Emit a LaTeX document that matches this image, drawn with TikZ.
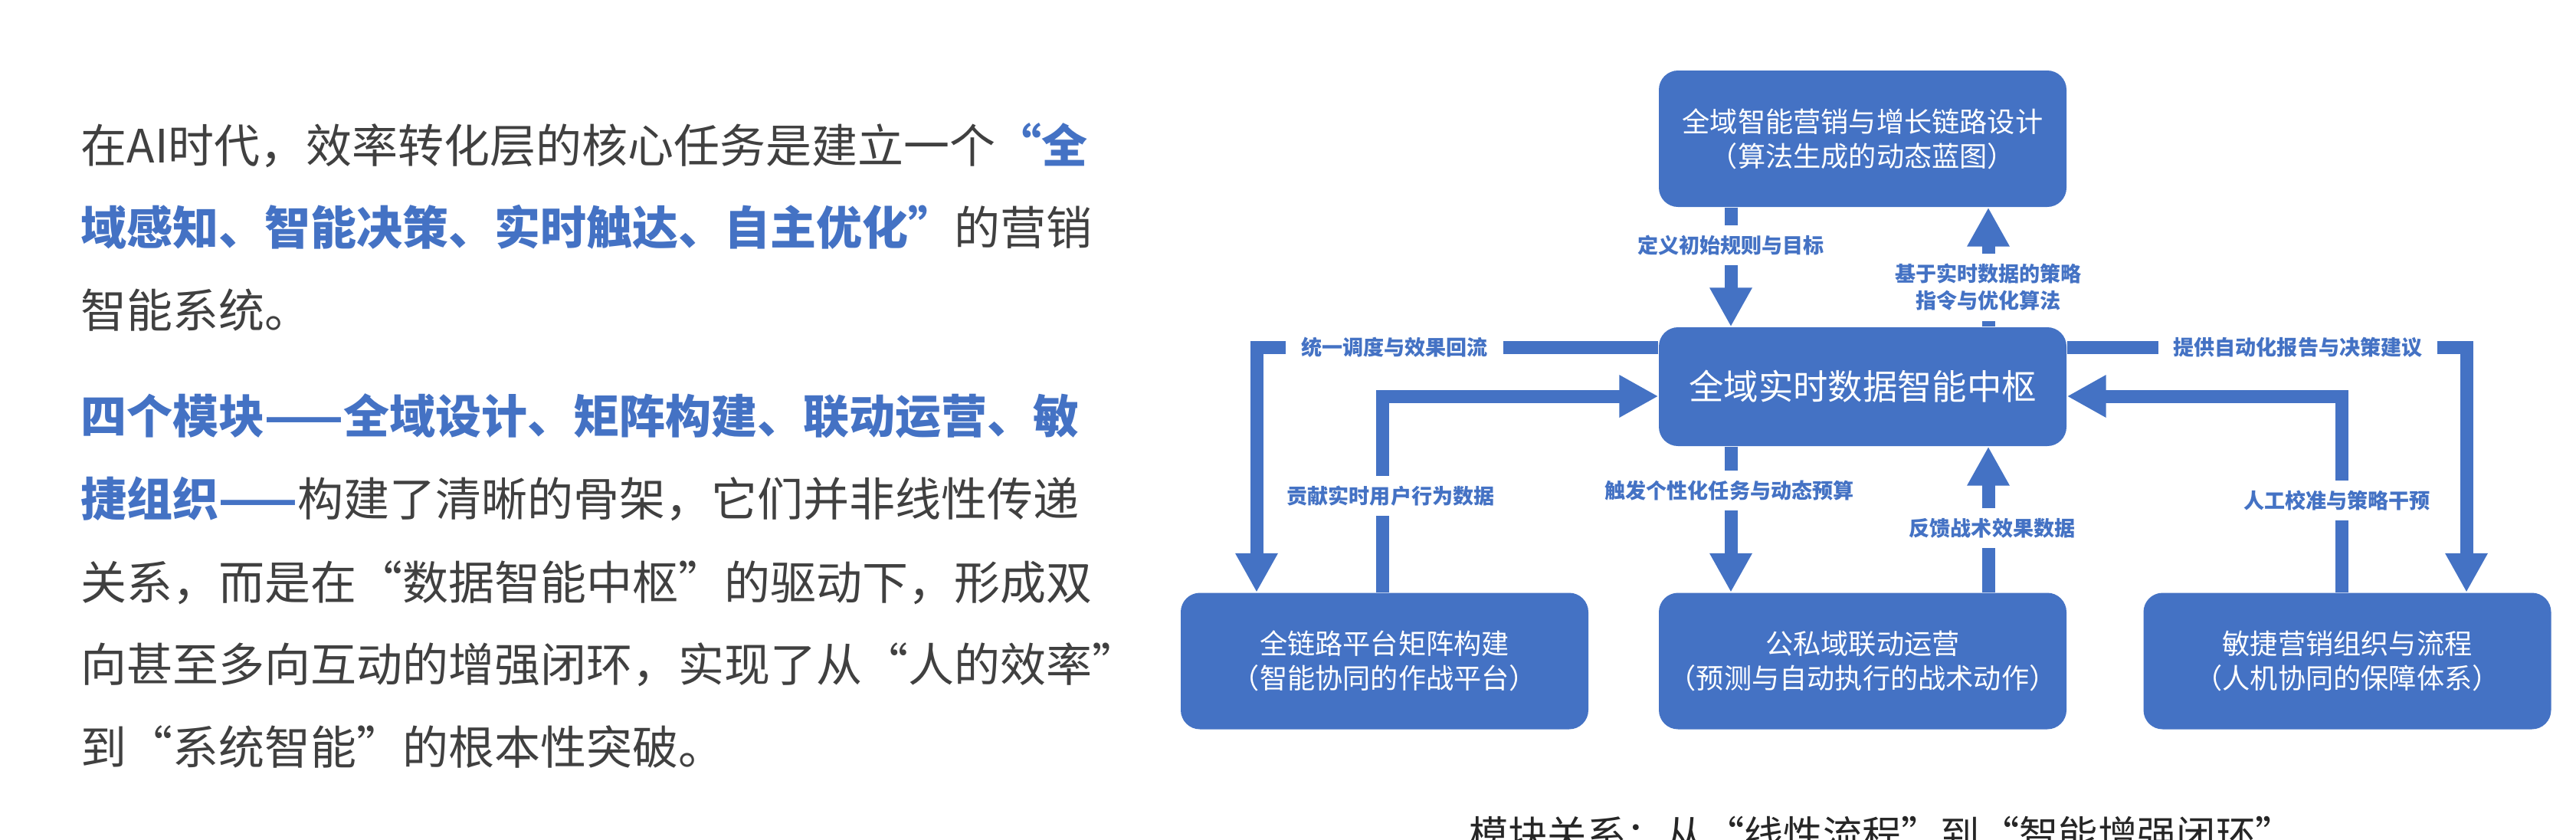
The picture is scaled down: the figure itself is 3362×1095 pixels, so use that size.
\documentclass[tikz,border=0pt]{standalone}
\usepackage{fontspec}
\setmainfont{Noto Sans CJK SC}
\newfontfamily\fwfont{Noto Sans CJK SC}[RawFeature=+fwid]
\usetikzlibrary{arrows.meta,calc}
\definecolor{mblue}{RGB}{68,114,196}
\definecolor{mgray}{RGB}{64,64,64}
\newcommand{\qo}{{\fwfont “}}
\newcommand{\qc}{{\fwfont ”}}
\newcommand{\hl}[1]{{\color{mblue}\bfseries #1}}

\begin{document}
\begin{tikzpicture}[x=0.1mm,y=-0.1mm,
  box/.style={fill=mblue,rounded corners=2.5mm,minimum width=53.2mm,minimum height=17.8mm,inner sep=0pt,text=white,align=center,font=\fontsize{10.3pt}{12.8pt}\selectfont},
  flow/.style={draw=mblue,line width=1.7mm,line join=miter,-{Triangle[width=5.2mm,length=5.1mm]}},
  tag/.style={fill=white,text=mblue,inner xsep=2mm,inner ysep=1.3mm,align=center,font=\bfseries\fontsize{7.7pt}{10pt}\selectfont}]
 \useasboundingbox (0,0) rectangle (3362,1095);
 \clip (0,0) rectangle (3362,1095);
 \fill[white] (0,0) rectangle (3362,1095);

% left column: the two paragraphs, one node per printed line
\begin{scope}[para/.style={anchor=base west,inner sep=0pt,text=mgray,font=\fontsize{17.07pt}{20pt}\selectfont}]
  \node[para] (p1) at (105,212) {在AI时代，效率转化层的核心任务是建立一个\hl{\qo 全}};
  \node[para] (p2) at (105,319) {\hl{域感知、智能决策、实时触达、自主优化\qc}的营销};
  \node[para] (p3) at (105,427) {智能系统。};
  \node[para] (p4) at (105,565) {\hl{四个模块——全域设计、矩阵构建、联动运营、敏}};
  \node[para] (p5) at (105,673) {\hl{捷组织——}构建了清晰的骨架，它们并非线性传递};
  \node[para] (p6) at (105,782) {关系，而是在\qo 数据智能中枢\qc 的驱动下，形成双};
  \node[para] (p7) at (105,889) {向甚至多向互动的增强闭环，实现了从\qo 人的效率\qc};
  \node[para] (p8) at (105,997) {到\qo 系统智能\qc 的根本性突破。};
\end{scope}

% the five modules
\node[box] (design) at (2431,181) {全域智能营销与增长链路设计\\（算法生成的动态蓝图）};
\node[box,minimum height=15.5mm,font=\fontsize{12.9pt}{15pt}\selectfont] (hub) at (2431,504.5) {全域实时数据智能中枢};
\node[box] (matrix) at (1807,862.5) {全链路平台矩阵构建\\（智能协同的作战平台）};
\node[box] (ops) at (2431,862.5) {公私域联动运营\\（预测与自动执行的战术动作）};
\node[box] (agile) at (3063.5,862.5) {敏捷营销组织与流程\\（人机协同的保障体系）};

% where the shafts run
\coordinate (xl) at (2259,0);
\coordinate (xr) at (2595,0);
\coordinate (lo) at (1640,453); % outer left loop
\coordinate (li) at (1804,517); % inner left loop
\coordinate (ro) at (3219,453); % outer right loop
\coordinate (ri) at (3056,517); % inner right loop

% vertical links above and below the hub
\draw[flow] (design.south -| xl) -- (hub.north -| xl);
\draw[flow] (hub.north -| xr) -- (design.south -| xr);
\draw[flow] (hub.south -| xl) -- (ops.north -| xl);
\draw[flow] (ops.north -| xr) -- (hub.south -| xr);
% side loops
\draw[flow] (hub.west |- lo) -| (matrix.north -| lo);
\draw[flow] (matrix.north -| li) |- (hub.west |- li);
\draw[flow] (hub.east |- ro) -| (agile.north -| ro);
\draw[flow] (agile.north -| ri) |- (hub.east |- ri);

% labels cut into the shafts
\node[tag] (t1) at (2259,320) {定义初始规则与目标};
\node[tag] (t2) at (2595,375) {基于实时数据的策略\\指令与优化算法};
\node[tag] (t3) at (1820,453) {统一调度与效果回流};
\node[tag] (t4) at (2999,453) {提供自动化报告与决策建议};
\node[tag] (t5) at (1815,647) {贡献实时用户行为数据};
\node[tag] (t6) at (2257,640) {触发个性化任务与动态预算};
\node[tag] (t7) at (2600,689) {反馈战术效果数据};
\node[tag] (t8) at (3050,653) {人工校准与策略干预};

% caption, cut by the lower edge
\node[anchor=base,inner sep=0pt,text=black!85,font=\fontsize{14.6pt}{16pt}\selectfont] (cap) at (2456,1108) {模块关系：从\qo 线性流程\qc 到\qo 智能增强闭环\qc};

\end{tikzpicture}
\end{document}
